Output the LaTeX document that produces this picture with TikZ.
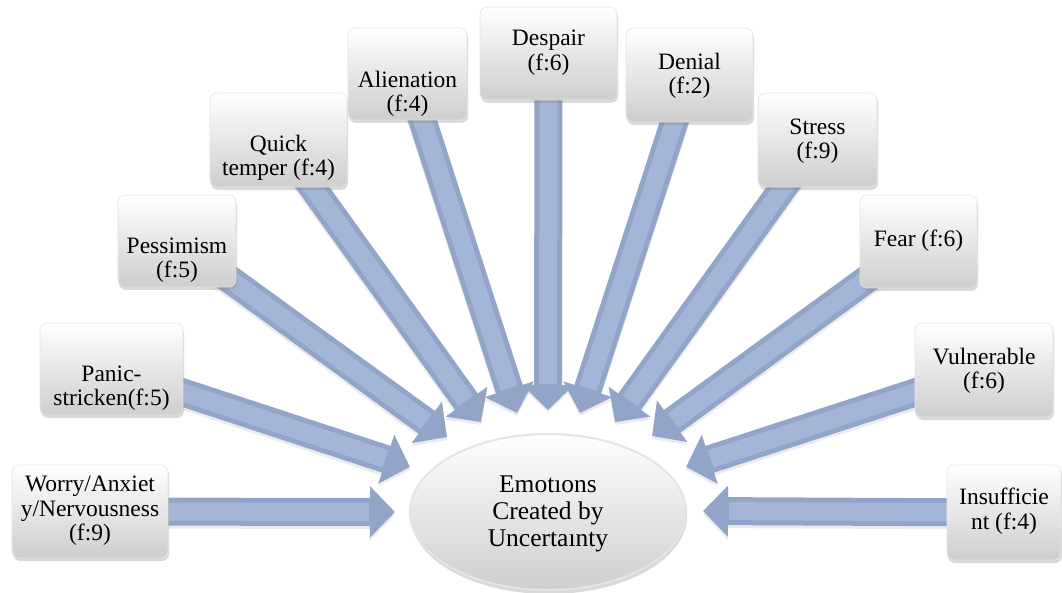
\documentclass[tikz,border=0pt]{standalone}
\usepackage{fontspec}
\setmainfont{Liberation Serif}
\newfontfamily\timesfam{Liberation Serif}
\usetikzlibrary{arrows.meta,shapes.geometric,shadows}
\pgfdeclarelayer{bg}
\pgfsetlayers{bg,main}
\newcommand\btxt[2]{\raisebox{#1}[0pt][0pt]{\begin{tabular}{@{}c@{}}#2\end{tabular}}}
\definecolor{arrbase}{RGB}{146,165,201}
\definecolor{arrlight}{RGB}{164,182,215}
\definecolor{boxbot}{RGB}{206,206,206}
\definecolor{boxline}{RGB}{228,228,228}
\begin{document}
\begin{tikzpicture}[x=1pt,y=-1pt,
  box/.style={rectangle, rounded corners=7pt, draw=boxline, line width=0.6pt,
    top color=white, bottom color=boxbot,
    drop shadow={shadow xshift=1pt, shadow yshift=-3pt, opacity=0.3},
    inner sep=0pt, font=\timesfam\fontsize{23.5}{24.5}\selectfont},
  hub/.style={ellipse, draw=boxline, line width=2pt, top color=white, bottom color=boxbot,
    drop shadow={shadow xshift=1pt, shadow yshift=-4pt, opacity=0.3},
    minimum width=276pt, minimum height=156pt, inner sep=0pt,
    font=\timesfam\fontsize{25.5}{27}\selectfont},
  arrsh/.style={line width=28pt, draw=black, opacity=0.08,
    -{Triangle[width=50pt,length=25pt]}, transform canvas={yshift=-3pt}},
  arr/.style={line width=28pt, draw=arrbase, -{Triangle[width=50pt,length=25pt]}},
  arrhi/.style={line width=18pt, draw=arrlight, shorten >=26pt},
]
\useasboundingbox (0,0) rectangle (1062,593);

% hub
\node[hub] (c) at (548,512) {\btxt{-8pt}{Emotıons\\Created by\\Uncertaınty}};

% boxes
\node[box, minimum width=156pt, minimum height=93pt] (b1) at (90,511.5) {\btxt{-6pt}{Worry/Anxiet\\y/Nervousness\\(f:9)}};
\node[box, minimum width=143pt, minimum height=92pt] (b2) at (111.5,369) {\btxt{-26pt}{Panic-\\stricken(f:5)}};
\node[box, minimum width=118pt, minimum height=92pt] (b3) at (177,241) {\btxt{-26pt}{Pessimism\\(f:5)}};
\node[box, minimum width=137pt, minimum height=94pt] (b4) at (278.5,140) {\btxt{-25pt}{Quick\\temper (f:4)}};
\node[box, minimum width=119pt, minimum height=92pt] (b5) at (407.5,74) {\btxt{-27pt}{Alienation\\(f:4)}};
\node[box, minimum width=137pt, minimum height=93pt] (b6) at (548.5,53.5) {\btxt{-6pt}{Despair\\(f:6)}};
\node[box, minimum width=127pt, minimum height=94pt] (b7) at (689.5,75) {\btxt{-8pt}{Denial\\(f:2)}};
\node[box, minimum width=119pt, minimum height=94pt] (b8) at (817.5,140) {\btxt{-8pt}{Stress\\(f:9)}};
\node[box, minimum width=117pt, minimum height=93pt] (b9) at (918.5,241.5) {\btxt{-6pt}{Fear (f:6)}};
\node[box, minimum width=138pt, minimum height=94pt] (b10) at (984,370) {\btxt{-8pt}{Vulnerable\\(f:6)}};
\node[box, minimum width=114pt, minimum height=95pt] (b11) at (1004,512.5) {\btxt{-6pt}{Insufficie\\nt (f:4)}};

% arrow tips
\coordinate (t1) at (395,512);
\coordinate (t2) at (410,467);
\coordinate (t3) at (447,437);
\coordinate (t4) at (481,422);
\coordinate (t5) at (517,413);
\coordinate (t6) at (548,410);
\coordinate (t7) at (580,413);
\coordinate (t8) at (615,422);
\coordinate (t9) at (652,436);
\coordinate (t10) at (686,467);
\coordinate (t11) at (703,511);

\begin{pgfonlayer}{bg}
  \foreach \i in {1,...,11} {
    \draw[arrsh] (b\i.center) -- (t\i);
  }
  \foreach \i in {1,...,11} {
    \draw[arr] (b\i.center) -- (t\i);
    \draw[arrhi] (b\i.center) -- (t\i);
  }
\end{pgfonlayer}
\end{tikzpicture}
\end{document}
